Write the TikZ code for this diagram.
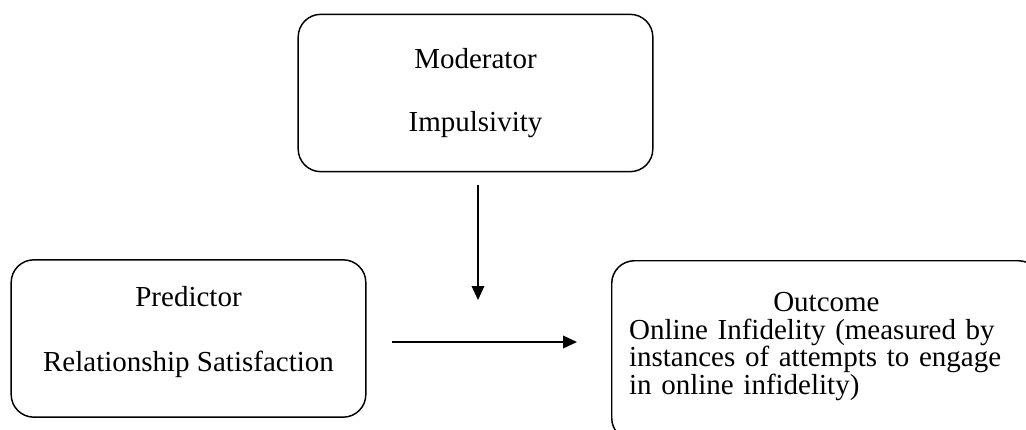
\documentclass[tikz,border=0pt]{standalone}
\usepackage{fontspec}
\setmainfont{Liberation Serif}
\usetikzlibrary{arrows.meta}

\begin{document}
\begin{tikzpicture}[x=0.75pt,y=0.75pt,yscale=-1,xscale=1]
\useasboundingbox (0,0) rectangle (1026,429);
\tikzset{every node/.style={font=\fontsize{21.75}{21}\selectfont},
  varbox/.style={draw, line width=1.1pt, rounded corners=17pt, inner sep=0pt, minimum width=266pt, minimum height=118pt, align=center},
  link/.style={line width=1.1pt, -{Triangle[length=10.5pt,width=9.5pt]}}}

%Moderator box
\node[varbox] (moderator) at (475.5,93) {Moderator\\[26.5pt]Impulsivity};
%Predictor box
\node[varbox, text depth=14pt] (predictor) at (188.5,338.5) {Predictor\\[27.75pt]Relationship Satisfaction};
%Outcome box (runs past the page edge)
\node[varbox, anchor=north west, minimum width=322pt, minimum height=135pt, text width=296pt, align=left, text depth=73pt] (outcome) at (611,260) {\fontsize{21.75}{20.5}\selectfont\makebox[\linewidth]{Outcome}\\Online Infidelity (measured by\\instances of attempts to engage\\in online infidelity)};

%Arrow ends
\coordinate (modtail) at (478,185);
\coordinate (modhead) at (478,300);
\coordinate (predtail) at (392,342);
\coordinate (predhead) at (577,342);

\draw[link] (modtail) -- (modhead);
\draw[link] (predtail) -- (predhead);

\end{tikzpicture}
\end{document}
